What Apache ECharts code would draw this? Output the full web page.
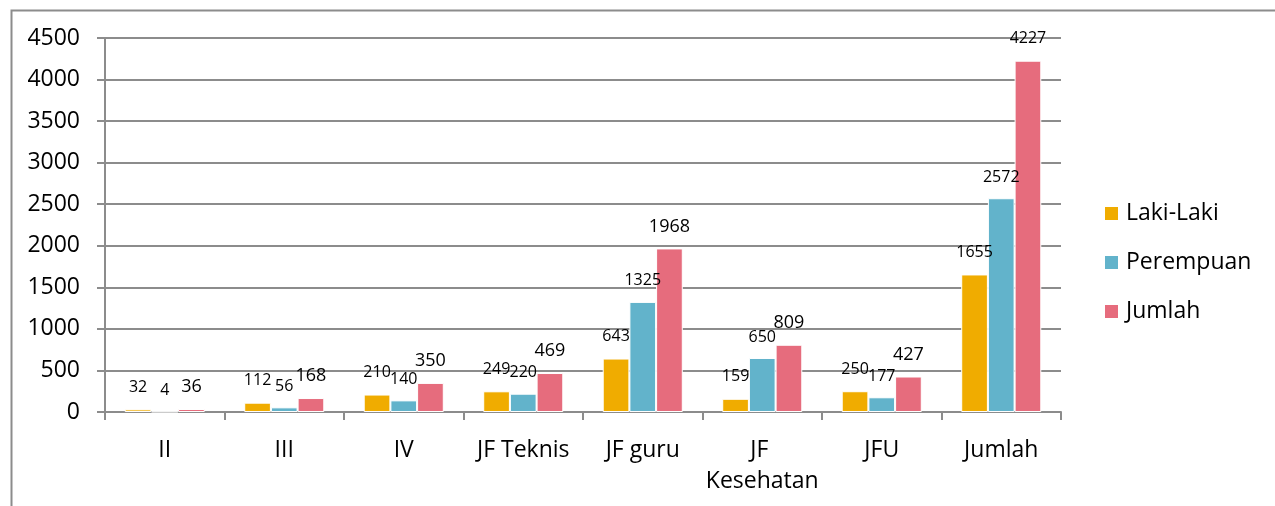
<!DOCTYPE html>
<html>
<head>
<meta charset="utf-8">
<script src="https://cdn.jsdelivr.net/npm/echarts@6/dist/echarts.min.js"></script>
<style>
html,body{margin:0;padding:0;background:#fff;}
#chart{width:1275px;height:506px;}
</style>
</head>
<body>
<div id="chart"></div>
<script>
const categories = ['II', 'III', 'IV', 'JF Teknis', 'JF guru', 'JF Kesehatan', 'JFU', 'Jumlah'];
const lakiLaki = [32, 112, 210, 249, 643, 159, 250, 1655];
const perempuan = [4, 56, 140, 220, 1325, 650, 177, 2572];
const jumlah = [36, 168, 350, 469, 1968, 809, 427, 4227];
const yTicks = [0, 500, 1000, 1500, 2000, 2500, 3000, 3500, 4000, 4500];

const FONT = '"Open Sans", "Noto Sans", sans-serif';
const GRAY = '#8c8c8c';

const chart = echarts.init(document.getElementById('chart'));

function mkLabel(size, dist) {
  return {
    show: true, position: 'top', distance: dist,
    fontFamily: FONT, fontSize: size, color: '#000'
  };
}

const jumlahData = jumlah.map((v, i) => i === jumlah.length - 1
  ? { value: v, label: { fontSize: 16, distance: 14 } }
  : v);

chart.setOption({
  animation: false,
  backgroundColor: '#fff',
  graphic: [{
    type: 'rect', left: 9, top: 8, silent: true,
    shape: { width: 1300, height: 600 },
    style: { fill: 'none', stroke: GRAY, lineWidth: 2 }
  }],
  grid: { left: 105, right: 214, top: 38, bottom: 94, containLabel: false },
  legend: {
    orient: 'vertical', left: 1103, top: 202, padding: 0,
    itemWidth: 15, itemHeight: 15, itemGap: 26,
    icon: 'rect',
    textStyle: { fontFamily: FONT, fontSize: 23, color: '#000', padding: [0, 0, 0, 2] },
    data: ['Laki-Laki', 'Perempuan', 'Jumlah']
  },
  xAxis: {
    type: 'category', data: categories,
    axisLine: { lineStyle: { color: GRAY, width: 2 } },
    axisTick: { show: true, length: 8, alignWithLabel: false, lineStyle: { color: GRAY, width: 2 } },
    axisLabel: {
      interval: 0, margin: 23, color: '#000', fontFamily: FONT, fontSize: 23,
      width: 116, overflow: 'break', lineHeight: 31
    }
  },
  yAxis: {
    type: 'value', min: 0, max: 4500, interval: 500,
    axisLine: { show: true, lineStyle: { color: GRAY, width: 2 } },
    axisTick: { show: true, length: 8, lineStyle: { color: GRAY, width: 2 } },
    splitLine: { show: true, lineStyle: { color: GRAY, width: 2 } },
    axisLabel: {
      margin: 25, color: '#000', fontFamily: FONT, fontSize: 23,
      formatter: v => yTicks.includes(v) ? String(v) : ''
    }
  },
  series: [
    {
      name: 'Laki-Laki', type: 'bar', data: lakiLaki,
      barGap: '0%', barCategoryGap: '33%',
      itemStyle: { color: '#F0AC00', borderColor: '#fff', borderWidth: 1 },
      label: mkLabel(16, 14)
    },
    {
      name: 'Perempuan', type: 'bar', data: perempuan,
      barGap: '0%', barCategoryGap: '33%',
      itemStyle: { color: '#62B3CB', borderColor: '#fff', borderWidth: 1 },
      label: mkLabel(16, 13)
    },
    {
      name: 'Jumlah', type: 'bar', data: jumlahData,
      barGap: '0%', barCategoryGap: '33%',
      itemStyle: { color: '#E66C7D', borderColor: '#fff', borderWidth: 1 },
      label: mkLabel(18, 13)
    }
  ]
});
</script>
</body>
</html>
